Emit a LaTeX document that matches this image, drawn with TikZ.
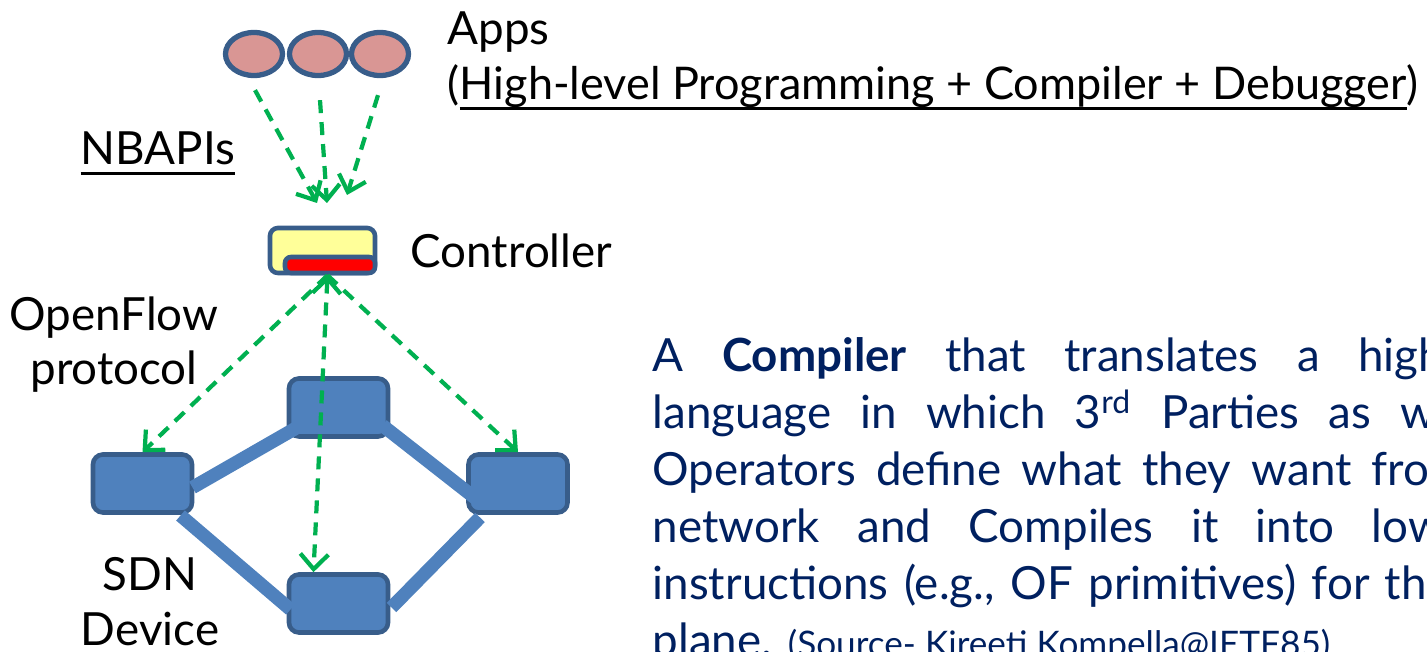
\documentclass[tikz,border=0pt]{standalone}
\usepackage{fontspec}
\setmainfont{Lato}
\usetikzlibrary{positioning,arrows.meta,shapes.geometric}
\definecolor{appfill}{RGB}{217,150,148}
\definecolor{edgeblue}{RGB}{56,93,138}
\definecolor{devblue}{RGB}{79,129,189}
\definecolor{flowgreen}{RGB}{0,176,80}
\definecolor{ctrlyellow}{RGB}{255,255,153}
\definecolor{textnavy}{RGB}{0,32,96}
\newlength\ulwd
\newcommand\ulbar[1]{\settowidth\ulwd{#1}\rlap{#1}\rule[-0.1cm]{\ulwd}{0.03cm}}

\begin{document}
\begin{tikzpicture}[x=0.01cm,y=-0.01cm,>={Straight Barb[length=0.15cm,width=0.28cm]},
	app/.style={ellipse,draw=edgeblue,fill=appfill,line width=1.5pt,%
		minimum width=0.57cm,minimum height=0.43cm,inner sep=0pt},
	dev/.style={draw=edgeblue,fill=devblue,line width=1.3pt,rounded corners=0.1cm,%
		minimum width=0.99cm,minimum height=0.58cm,inner sep=0pt},
	flow/.style={flowgreen,line width=1.2pt,dash pattern=on 0.13cm off 0.09cm},
	link/.style={devblue,line width=3.8pt},
	lbl/.style={font=\fontsize{13}{15.6}\selectfont,inner sep=0pt,anchor=base west},
	para/.style={anchor=north west,text width=9cm,align=justify,inner sep=0pt,%
		text=textnavy,font=\fontsize{13}{16.2}\selectfont}]
	\useasboundingbox (0,0) rectangle (1427,652);
	
	\foreach \i/\x in {1/254,2/318,3/380}{
		\node[app] (app\i) at (\x,54) {};
	}
	\node[draw=edgeblue,fill=ctrlyellow,line width=1.3pt,rounded corners=0.08cm,%
		minimum width=1.05cm,minimum height=0.45cm,inner sep=0pt] (ctrl) at (322.5,250.5) {};
	\node[draw=edgeblue,fill=red,line width=1.3pt,rounded corners=0.06cm,%
		minimum width=0.9cm,minimum height=0.16cm,inner sep=0pt,anchor=south east] (ctrlbar) at (ctrl.south east) {};
	
	\foreach \n/\p in {swT/{(338.5,407.5)},swL/{(142.5,483.5)},swR/{(518,483.5)},swB/{(338.5,603.5)}}{
		\node[dev] (\n) at \p {};
	}
	\draw[link] ([shift={(-38,18)}]swT.center) -- ([shift={(50,4)}]swL.center);
	\draw[link] ([shift={(44,18)}]swT.center) -- ([shift={(-41,16)}]swR.center);
	\draw[link] ([shift={(38,32)}]swL.center) -- ([shift={(-48,6)}]swB.center);
	\draw[link] ([shift={(-38,34)}]swR.center) -- ([shift={(53,4)}]swB.center);
	
	\coordinate (nb1) at (317,203);
	\coordinate (nb2) at (327,203);
	\coordinate (nb3) at (347,195);
	\draw[flow,->] ([shift={(1,12)}]app1.south) -- (nb1);
	\draw[flow,->] ([shift={(2,22)}]app2.south) -- (nb2);
	\draw[flow,->] ([shift={(-2,17)}]app3.south) -- (nb3);
	\draw[flow,->] ([xshift=0.05cm]ctrl.south) -- (swL.north);
	\draw[flow,->] ([xshift=0.05cm]ctrl.south) -- (swR.north);
	\draw[flow,<->] ([xshift=0.05cm]ctrl.south) -- ([xshift=-0.25cm]swB.north);
	
	\node[lbl] (apps) at (447,45) {Apps};
	\node[lbl,font=\fontsize{12.8}{15.6}\selectfont] (hll) at (447,100) {(\ulbar{High-level Programming + Compiler + Debugger})};
	\node[lbl] (nbapi) at (80,165) {\ulbar{NBAPIs}};
	\node[lbl] (ctrltxt) at (410,268) {Controller};
	\node[lbl,anchor=base,align=center] (ofp) at (114,385) {OpenFlow\\protocol};
	\node[lbl,anchor=base,align=center] (sdn) at (150,645) {SDN\\Device};
	
	\begin{scope}
		\clip (0,0) rectangle (1427,652);
		\node[para] (desc) at (652,337) {A \textbf{Compiler} that translates a high-level\linebreak
			language in which 3\textsuperscript{rd} Parties as well as\linebreak
			Operators define what they want from the\linebreak
			network and Compiles it into low-level\linebreak
			instructions (e.g., OF primitives) for the data\linebreak
			plane. {\fontsize{10}{12}\selectfont(Source- Kireeti Kompella@IETF85)}};
	\end{scope}
\end{tikzpicture}
\end{document}
